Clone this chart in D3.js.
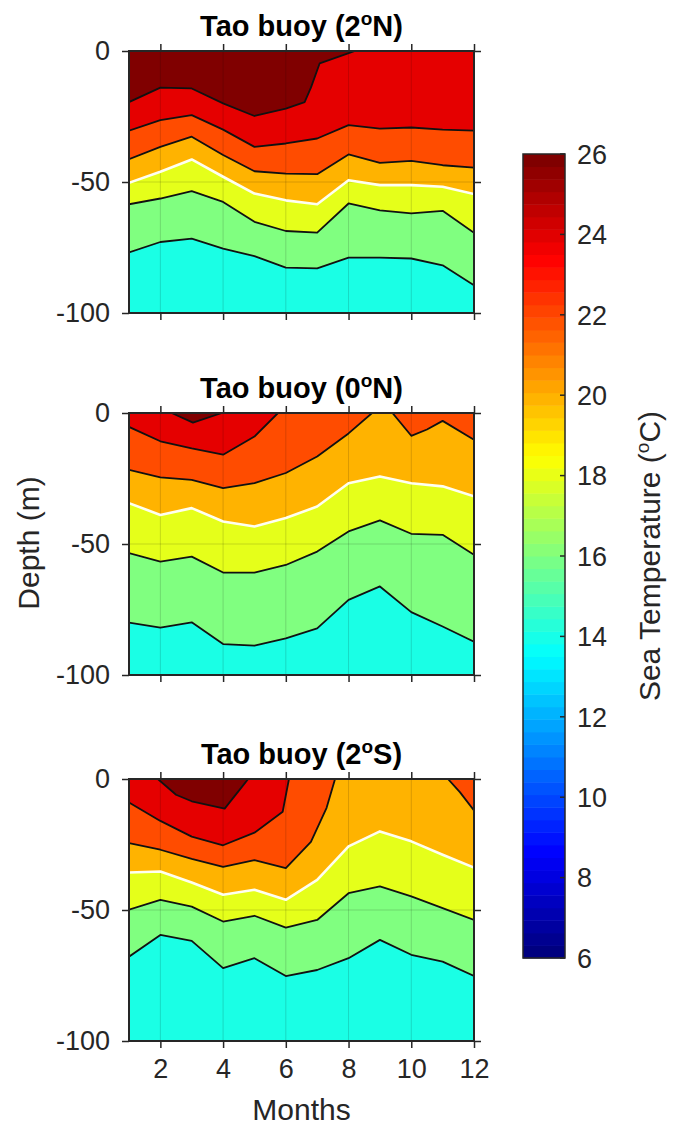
<!DOCTYPE html>
<html>
<head>
<meta charset="utf-8">
<script src="https://cdnjs.cloudflare.com/ajax/libs/d3/7.8.5/d3.min.js"></script>
<style>
  body { margin: 0; background: #fff; }
  svg { display: block; font-family: "Liberation Sans", Arial, sans-serif; }
</style>
</head>
<body>
<div id="chart"></div>
<script>
// Isotherm depths (m). 12-value arrays are monthly (Jan..Dec),
// the others are [month, depth] pairs where a line meets the surface.
const months = d3.range(1, 13);
const isoLevels = [16, 18, 20, 22, 24, 26];
const xTicks = [2, 4, 6, 8, 10, 12];
const yTicks = [0, -50, -100];
const colorTicks = d3.range(6, 27, 2);
const titleLat = ['2', '0', '2'];
const titleHemi = ['N', 'N', 'S'];

// Tao buoy 2N
const n2_26 = [[1, -19.5], [2, -14], [3, -14.3], [4, -20], [5, -24.8], [6, -22], [6.6, -19.5], [6.8, -14], [7.08, -4.7], [8.05, -0.6], [8.2, 0], [12, 0]];
const n2_24 = [-30.4, -26.4, -24.5, -30, -36.6, -35.3, -33.4, -28.3, -29.6, -29.2, -30, -30.4];
const n2_22 = [-41.3, -36.6, -32.7, -39.7, -45.9, -46.8, -47, -39.5, -42.7, -41.9, -43.6, -44.5];
const n2_20 = [-50.3, -46.1, -41.4, -48, -54.4, -57, -58.5, -49.3, -51.2, -51.2, -51.8, -54.6];
const n2_18 = [-58.5, -56.3, -53.5, -57.6, -65.2, -68.7, -69.3, -58.2, -60.8, -62, -61, -69.4];
const n2_16 = [-76.9, -72.9, -71.6, -75.4, -78.3, -82.7, -83, -78.9, -78.9, -79.2, -81.8, -89.4];

// Tao buoy 0N
const eq_26 = [[1, 0], [2.36, 0], [3.04, -3.7], [3.96, 0], [12, 0]];
const eq_24 = [[1, -5.3], [2, -10.8], [3, -13.5], [4, -15.9], [5, -9], [5.75, 0], [12, 0]];
const eq_22 = [[1, -21.7], [2, -24.6], [3, -25.5], [4, -28.7], [5, -26.8], [6, -22.9], [7, -16.6], [8, -7.8], [8.75, 0], [9.4, 0], [10, -8.7], [10.5, -6.3], [11, -3], [12, -10.2]];
const eq_20 = [-34.4, -38.9, -36.3, -41.4, -43.3, -40.1, -35.7, -26.8, -24.2, -26.8, -28, -31.8];
const eq_18 = [-53.5, -56.7, -54.8, -60.9, -60.9, -58, -52.9, -45.2, -41, -46.1, -46.5, -54.1];
const eq_16 = [-80, -81.9, -79.9, -88.2, -88.8, -86, -82.2, -71.3, -66.2, -76, -81.5, -87.3];

// Tao buoy 2S
const s2_26 = [[1, 0], [1.92, 0], [2.5, -6], [3, -8.5], [4.05, -11.3], [4.6, -3], [4.8, 0], [12, 0]];
const s2_24 = [[1, -9], [2, -16], [3, -22], [4, -25.3], [5, -20.5], [5.9, -12.5], [6.1, 0], [12, 0]];
const s2_22 = [[1, -24.5], [2, -27], [3, -30.5], [4, -33.5], [5, -31], [6, -34], [6.8, -24], [7.3, -11], [7.57, 0], [11.17, 0], [11.55, -5], [12, -12]];
const s2_20 = [-35.7, -35.3, -39.5, -44.2, -42.3, -46.1, -38.5, -25.7, -20, -23.8, -28.9, -33.8];
const s2_18 = [-49.9, -46.1, -48.7, -54.4, -52.2, -56.7, -53.8, -43.6, -41, -44.8, -49.3, -53.8];
const s2_16 = [-67.8, -59.5, -61.8, -72.2, -68.4, -75.2, -72.9, -68.4, -61.4, -67.1, -69.7, -75.2];

// turn a monthly array into [month, depth] pairs
function pts(arr) {
    return typeof arr[0] === 'number' ? months.map((m, i) => [m, arr[i]]) : arr;
}

const panels = [
    [n2_16, n2_18, n2_20, n2_22, n2_24, n2_26],
    [eq_16, eq_18, eq_20, eq_22, eq_24, eq_26],
    [s2_16, s2_18, s2_20, s2_22, s2_24, s2_26]
].map(list => list.map(pts));

// MATLAB style jet colormap, caxis [6 26]
function jet(v) {
    const t = (v - 6) / 20;
    const c = z => Math.round(255 * Math.max(0, Math.min(1, z)));
    return d3.rgb(c(1.5 - Math.abs(4 * t - 3)), c(1.5 - Math.abs(4 * t - 2)), c(1.5 - Math.abs(4 * t - 1))).toString();
}

const width = 675, height = 1127;
const panelTops = [51, 413, 779];
const panelH = 262;
const ink = '#262626';

const svg = d3.select('#chart')
    .append('svg')
    .attr('width', width)
    .attr('height', height);

const defs = svg.append('defs');

const x = d3.scaleLinear().domain([1, 12]).range([129, 474]);

panels.forEach((isos, i) => {
    const top = panelTops[i];
    const y = d3.scaleLinear().domain([0, -100]).range([top, top + panelH]);
    const g = svg.append('g');

    defs.append('clipPath').attr('id', 'clip' + i)
        .append('rect')
        .attr('x', x(1)).attr('y', top)
        .attr('width', x(12) - x(1)).attr('height', panelH);

    const plot = g.append('g').attr('clip-path', `url(#clip${i})`);

    // warmest band as background, then each colder band below its isotherm
    plot.append('rect')
        .attr('x', x(1)).attr('y', top)
        .attr('width', x(12) - x(1)).attr('height', panelH)
        .attr('fill', jet(isoLevels[isoLevels.length - 1]));

    const area = d3.area()
        .x(d => x(d[0]))
        .y0(y(-100))
        .y1(d => y(d[1]));

    for (let k = isos.length - 1; k >= 0; k--) {
        plot.append('path')
            .attr('d', area(isos[k]))
            .attr('fill', jet(isoLevels[k] - 2));
    }

    // grid
    plot.selectAll('.vgrid')
        .data(xTicks.filter(d => d < 12))
        .join('line')
        .attr('x1', d => x(d)).attr('x2', d => x(d))
        .attr('y1', top).attr('y2', top + panelH)
        .attr('stroke', 'rgba(0,0,0,0.15)')
        .attr('stroke-width', 1);
    plot.append('line')
        .attr('x1', x(1)).attr('x2', x(12))
        .attr('y1', y(-50)).attr('y2', y(-50))
        .attr('stroke', 'rgba(0,0,0,0.15)')
        .attr('stroke-width', 1);

    // contour lines, 20 degC isotherm in white
    const line = d3.line().x(d => x(d[0])).y(d => y(d[1]));
    isos.forEach((iso, k) => {
        plot.append('path')
            .attr('d', line(iso))
            .attr('fill', 'none')
            .attr('stroke', isoLevels[k] === 20 ? '#fffff0' : '#111')
            .attr('stroke-width', isoLevels[k] === 20 ? 2.6 : 1.8)
            .attr('stroke-linejoin', 'round');
    });

    // axes
    const yLeft = g.append('g')
        .attr('transform', `translate(${x(1)},0)`)
        .call(d3.axisLeft(y).tickValues(yTicks).tickSize(7).tickSizeOuter(0).tickPadding(12).tickFormat(d => String(d)));
    g.append('g')
        .attr('transform', `translate(${x(12)},0)`)
        .call(d3.axisRight(y).tickValues(yTicks).tickSize(7).tickSizeOuter(0).tickFormat(''));
    g.append('g')
        .attr('transform', `translate(0,${top})`)
        .call(d3.axisTop(x).tickValues(xTicks).tickSize(7).tickSizeOuter(0).tickFormat(''));
    g.append('g')
        .attr('transform', `translate(0,${top + panelH})`)
        .call(d3.axisBottom(x).tickValues(xTicks).tickSize(7).tickSizeOuter(0).tickPadding(11)
            .tickFormat(i === 2 ? (d => String(d)) : ''));

    g.selectAll('.domain').remove();
    g.selectAll('.tick line').attr('stroke', ink).attr('stroke-width', 1.5);
    g.selectAll('.tick text')
        .attr('fill', ink)
        .style('font-size', '27px');

    // frame
    g.append('rect')
        .attr('x', x(1)).attr('y', top)
        .attr('width', x(12) - x(1)).attr('height', panelH)
        .attr('fill', 'none')
        .attr('stroke', ink)
        .attr('stroke-width', 2);

    // title
    const title = g.append('text')
        .attr('x', (x(1) + x(12)) / 2)
        .attr('y', top - 15)
        .attr('text-anchor', 'middle')
        .attr('font-weight', 'bold')
        .style('font-size', '29px')
        .attr('fill', '#000');
    title.append('tspan').text(`Tao buoy (${titleLat[i]}`);
    title.append('tspan').attr('dy', -11).style('font-size', '19px').text('o');
    title.append('tspan').attr('dy', 11).text(`${titleHemi[i]})`);
});

// axis labels
svg.append('text')
    .attr('transform', 'translate(39,543) rotate(-90)')
    .attr('text-anchor', 'middle')
    .attr('fill', ink)
    .style('font-size', '30px')
    .text('Depth (m)');

svg.append('text')
    .attr('x', (x(1) + x(12)) / 2)
    .attr('y', 1120)
    .attr('text-anchor', 'middle')
    .attr('fill', ink)
    .style('font-size', '30px')
    .text('Months');

// colorbar
const cbX = 523, cbW = 42;
const c = d3.scaleLinear().domain([6, 26]).range([958, 154]);
const nColors = 64;
const steps = d3.range(nColors).map(j => 6 + 20 * j / nColors);

const cb = svg.append('g');
cb.selectAll('rect.step')
    .data(steps)
    .join('rect')
    .attr('class', 'step')
    .attr('x', cbX)
    .attr('width', cbW)
    .attr('y', d => c(d + 20 / nColors))
    .attr('height', d => c(d) - c(d + 20 / nColors) + 0.5)
    .attr('fill', (d, j) => jet(6 + 20 * j / (nColors - 1)));

cb.append('rect')
    .attr('x', cbX).attr('y', c(26))
    .attr('width', cbW).attr('height', c(6) - c(26))
    .attr('fill', 'none')
    .attr('stroke', ink)
    .attr('stroke-width', 1.5);

cb.selectAll('line.tk')
    .data(colorTicks)
    .join('line')
    .attr('class', 'tk')
    .attr('x1', cbX + cbW - 5).attr('x2', cbX + cbW)
    .attr('y1', d => c(d)).attr('y2', d => c(d))
    .attr('stroke', ink)
    .attr('stroke-width', 1.5);

cb.selectAll('text.tl')
    .data(colorTicks)
    .join('text')
    .attr('class', 'tl')
    .attr('x', 577)
    .attr('y', d => c(d))
    .attr('dy', '0.36em')
    .attr('fill', ink)
    .style('font-size', '27px')
    .text(d => d);

const cbLabel = svg.append('text')
    .attr('transform', `translate(660,${(c(6) + c(26)) / 2}) rotate(-90)`)
    .attr('text-anchor', 'middle')
    .attr('fill', ink)
    .style('font-size', '30px');
cbLabel.append('tspan').text('Sea Temperature (');
cbLabel.append('tspan').attr('dy', -11).style('font-size', '19px').text('o');
cbLabel.append('tspan').attr('dy', 11).text('C)');
</script>
</body>
</html>
